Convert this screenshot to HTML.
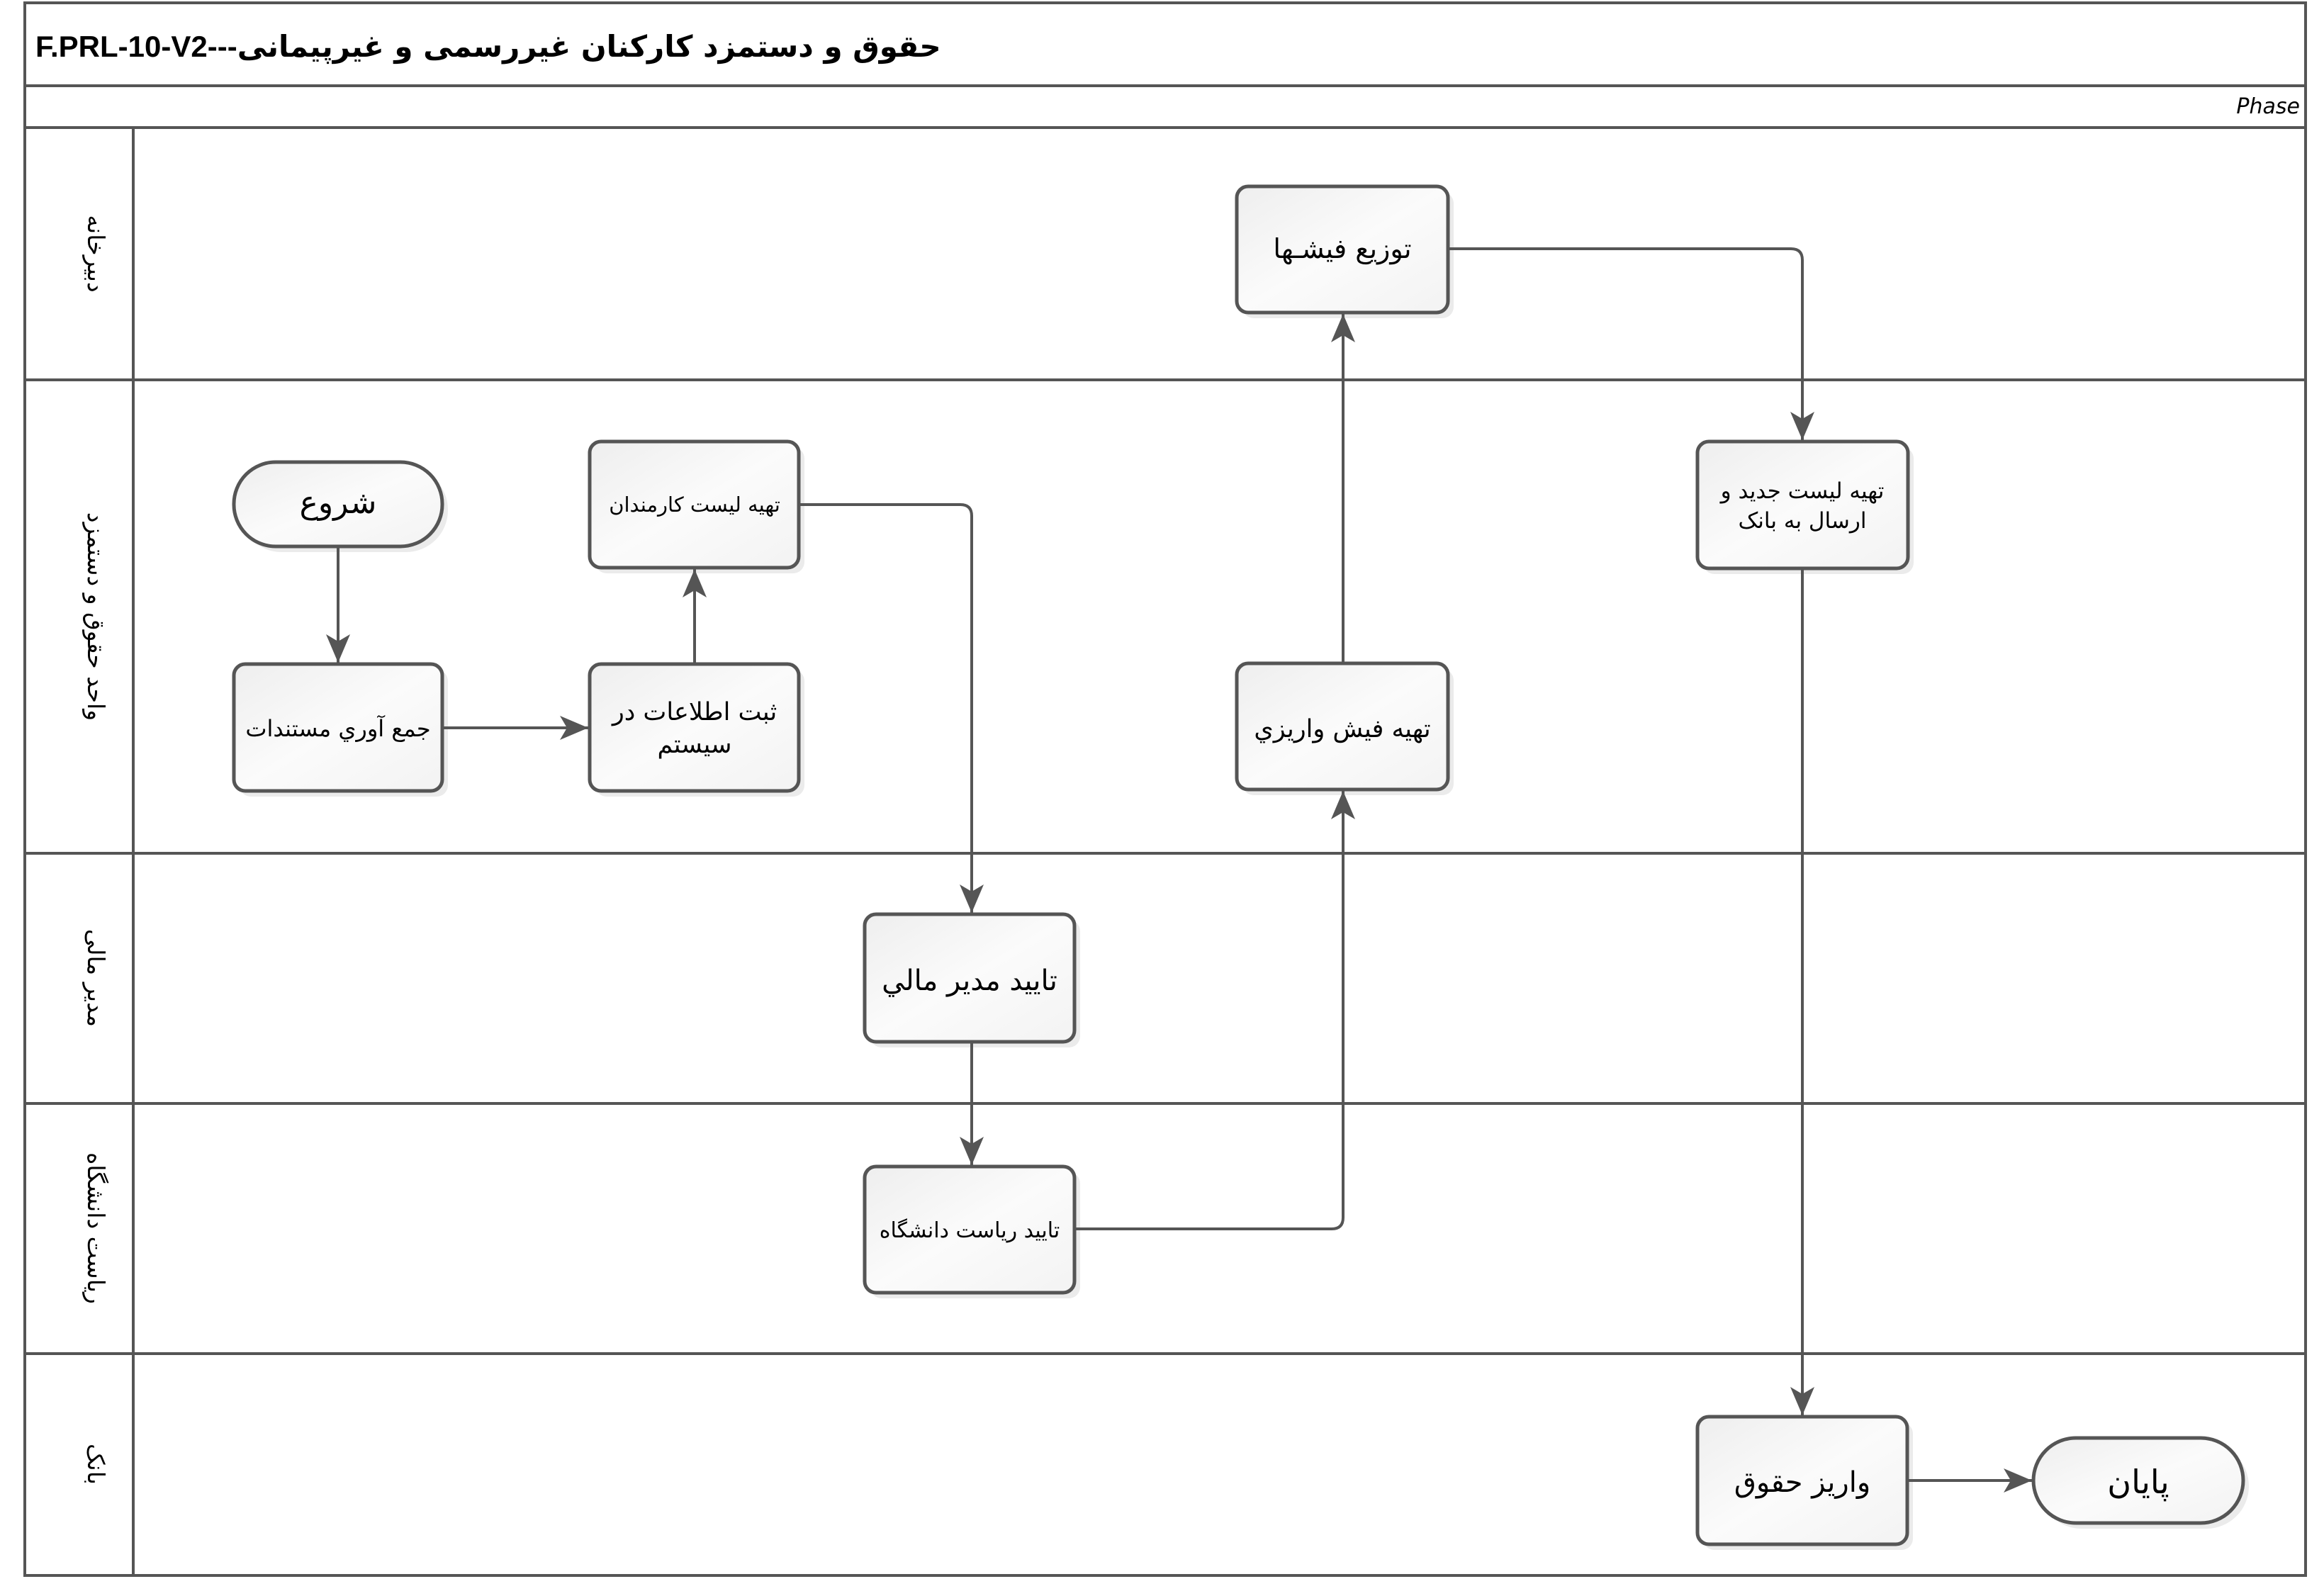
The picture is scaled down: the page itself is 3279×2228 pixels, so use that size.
<!DOCTYPE html>
<html><head><meta charset="utf-8">
<style>
html,body{margin:0;padding:0;background:#fff;}
svg{display:block;}
text{font-family:"DejaVu Sans","Liberation Sans","Noto Sans CJK SC",sans-serif;fill:#000;}
</style></head>
<body>
<svg width="3279" height="2228" viewBox="0 0 3279 2228" xmlns="http://www.w3.org/2000/svg">
<defs>
<linearGradient id="g" x1="0" y1="0" x2="1" y2="1">
<stop offset="0" stop-color="#eeeeee"/><stop offset="0.5" stop-color="#fbfbfb"/><stop offset="1" stop-color="#f3f3f3"/>
</linearGradient>
<marker id="a" viewBox="0 0 40 34" refX="40" refY="17" markerWidth="40" markerHeight="34" markerUnits="userSpaceOnUse" orient="auto">
<path d="M0,0 L40,17 L0,34 L10,17 Z" fill="#555"/>
</marker>
</defs>
<rect width="3279" height="2228" fill="#fff"/>
<!-- shadows -->
<g fill="#ebebeb">
<rect x="338" y="660" width="294" height="119" rx="59"/>
<rect x="840" y="631" width="295" height="178" rx="16"/>
<rect x="338" y="945" width="294" height="179" rx="16"/>
<rect x="840" y="945" width="295" height="179" rx="16"/>
<rect x="1753" y="271" width="298" height="178" rx="16"/>
<rect x="1753" y="944" width="298" height="178" rx="16"/>
<rect x="2403" y="631" width="297" height="179" rx="16"/>
<rect x="1228" y="1298" width="296" height="180" rx="16"/>
<rect x="1228" y="1654" width="296" height="178" rx="16"/>
<rect x="2403" y="2007" width="296" height="180" rx="16"/>
<rect x="2877" y="2037" width="296" height="120" rx="60"/>
</g>
<!-- frame -->
<g stroke="#555" stroke-width="4" fill="none">
<rect x="35" y="4" width="3218" height="2219"/>
<line x1="35" y1="121" x2="3253" y2="121"/>
<line x1="35" y1="180" x2="3253" y2="180"/>
<line x1="35" y1="536" x2="3253" y2="536"/>
<line x1="35" y1="1204" x2="3253" y2="1204"/>
<line x1="35" y1="1557" x2="3253" y2="1557"/>
<line x1="35" y1="1910" x2="3253" y2="1910"/>
<line x1="188" y1="180" x2="188" y2="2223"/>
</g>
<!-- title -->
<text x="50" y="80" font-size="42" font-weight="bold" direction="ltr"><tspan font-family="Liberation Sans">F.PRL-10-V2---</tspan><tspan direction="rtl" unicode-bidi="embed">حقوق و دستمزد کارکنان غیررسمی و غیرپیمانی</tspan></text>
<text x="3245" y="160" font-size="30" font-style="italic" text-anchor="end" font-family="Liberation Sans">Phase</text>
<!-- lane labels -->
<g font-size="33" text-anchor="middle">
<text transform="translate(124,358) rotate(90)">دبیرخانه</text>
<text transform="translate(124,870) rotate(90)">واحد حقوق و دستمزد</text>
<text transform="translate(124,1380) rotate(90)">مدیر مالی</text>
<text transform="translate(124,1733) rotate(90)">ریاست دانشگاه</text>
<text transform="translate(124,2066) rotate(90)">بانک</text>
</g>
<!-- connectors -->
<g stroke="#555" stroke-width="4" fill="none">
<line x1="477" y1="771" x2="477" y2="935" marker-end="url(#a)"/>
<line x1="624" y1="1027" x2="830" y2="1027" marker-end="url(#a)"/>
<line x1="980" y1="937" x2="980" y2="803" marker-end="url(#a)"/>
<path d="M1127,712 L1355,712 Q1371,712 1371,728 L1371,1288" marker-end="url(#a)"/>
<line x1="1371" y1="1470" x2="1371" y2="1644" marker-end="url(#a)"/>
<path d="M1516,1734 L1879,1734 Q1895,1734 1895,1718 L1895,1116" marker-end="url(#a)"/>
<line x1="1895" y1="936" x2="1895" y2="443" marker-end="url(#a)"/>
<path d="M2043,351 L2527,351 Q2543,351 2543,367 L2543,621" marker-end="url(#a)"/>
<line x1="2543" y1="802" x2="2543" y2="1997" marker-end="url(#a)"/>
<line x1="2691" y1="2089" x2="2867" y2="2089" marker-end="url(#a)"/>
</g>
<!-- shapes -->
<g stroke="#555" stroke-width="5" fill="url(#g)">
<rect x="330" y="652" width="294" height="119" rx="59"/>
<rect x="832" y="623" width="295" height="178" rx="16"/>
<rect x="330" y="937" width="294" height="179" rx="16"/>
<rect x="832" y="937" width="295" height="179" rx="16"/>
<rect x="1745" y="263" width="298" height="178" rx="16"/>
<rect x="1745" y="936" width="298" height="178" rx="16"/>
<rect x="2395" y="623" width="297" height="179" rx="16"/>
<rect x="1220" y="1290" width="296" height="180" rx="16"/>
<rect x="1220" y="1646" width="296" height="178" rx="16"/>
<rect x="2395" y="1999" width="296" height="180" rx="16"/>
<rect x="2869" y="2029" width="296" height="120" rx="60"/>
</g>
<!-- shape text -->
<g text-anchor="middle" direction="rtl">
<text x="477" y="724" font-size="44">شروع</text>
<text x="980" y="722" font-size="29">تهیه لیست کارمندان</text>
<text x="477" y="1039" font-size="32">جمع آوري مستندات</text>
<text x="980" y="1016" font-size="35">ثبت اطلاعات در</text>
<text x="980" y="1062" font-size="35">سیستم</text>
<text x="1894" y="364" font-size="38">توزیع فیشـها</text>
<text x="1894" y="1040" font-size="35">تهیه فیش واریزي</text>
<text x="2543" y="703" font-size="31">تهیه لیست جدید و</text>
<text x="2543" y="745" font-size="31">ارسال به بانک</text>
<text x="1368" y="1397" font-size="40">تایید مدیر مالي</text>
<text x="1368" y="1746" font-size="30">تایید ریاست دانشگاه</text>
<text x="2543" y="2105" font-size="40">واریز حقوق</text>
<text x="3017" y="2107" font-size="46">پایان</text>
</g>
</svg>
</body></html>
